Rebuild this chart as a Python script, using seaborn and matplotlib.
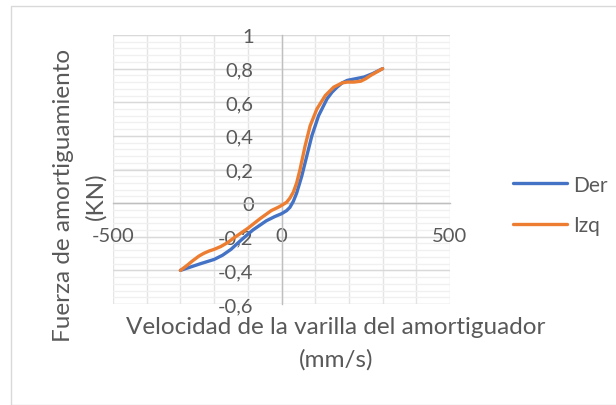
import matplotlib
matplotlib.use("Agg")
import matplotlib.pyplot as plt
import seaborn as sns
import pandas as pd
import numpy as np
from matplotlib.ticker import FuncFormatter
from matplotlib.patches import Rectangle
from matplotlib.lines import Line2D

# Data
der_x = [-300, -270, -240, -200, -175, -150, -120, -85, -45, -20, 0, 15, 25, 35, 45, 60, 75, 90, 110, 135, 150, 165, 180, 195, 215, 245, 270, 300]
der_y = [-0.40, -0.38, -0.36, -0.335, -0.31, -0.275, -0.22, -0.16, -0.105, -0.08, -0.063, -0.045, -0.025, 0.01, 0.06, 0.16, 0.28, 0.40, 0.52, 0.62, 0.66, 0.69, 0.715, 0.73, 0.738, 0.75, 0.77, 0.80]
izq_x = [-300, -280, -265, -245, -230, -215, -200, -180, -160, -140, -100, -64, -30, -10, 0, 15, 25, 35, 45, 55, 70, 85, 105, 130, 155, 180, 195, 215, 235, 250, 265, 300]
izq_y = [-0.40, -0.37, -0.345, -0.315, -0.298, -0.285, -0.275, -0.258, -0.235, -0.205, -0.15, -0.093, -0.044, -0.025, -0.014, 0.005, 0.03, 0.065, 0.12, 0.20, 0.34, 0.46, 0.56, 0.64, 0.69, 0.715, 0.72, 0.72, 0.725, 0.74, 0.76, 0.80]
series_names = ["Der", "Izq"]
x_ticks = [-500, 0, 500]
y_ticks = [-0.6, -0.4, -0.2, 0, 0.2, 0.4, 0.6, 0.8, 1]

df = pd.concat([
    pd.DataFrame({"x": der_x, "y": der_y, "serie": series_names[0]}),
    pd.DataFrame({"x": izq_x, "y": izq_y, "serie": series_names[1]}),
])

sns.set_theme(style="white")
plt.rcParams['font.family'] = ['Lato', 'DejaVu Sans']

W, H = 616, 406
fig = plt.figure(figsize=(W / 100, H / 100), dpi=100)
fig.patches.append(Rectangle((11 / W, 0), 1, 1 - 7 / H, transform=fig.transFigure,
                             fill=False, edgecolor="#D9D9D9", linewidth=1.0))

ax = fig.add_axes([113 / W, 1 - 305 / H, (450 - 113) / W, (305 - 36) / H])
ax.set_xlim(-500, 500)
ax.set_ylim(-0.6, 1.0)

# gridlines
for xv in np.arange(-500, 501, 100):
    ax.axvline(xv, color="#E4E4E4", linewidth=1.0, zorder=0)
for yv in np.arange(-0.6, 1.0001, 0.04):
    ax.axhline(yv, color="#F0F0F0", linewidth=1.0, zorder=0)
for yv in np.arange(-0.6, 1.0001, 0.2):
    ax.axhline(yv, color="#D9D9D9", linewidth=1.0, zorder=0.5)

sns.lineplot(data=df, x="x", y="y", hue="serie", sort=False, ax=ax,
             palette=["#4472C4", "#ED7D31"], linewidth=2.4, legend=False, zorder=3)
for l in ax.get_lines():
    l.set_solid_joinstyle("round")
    l.set_solid_capstyle("round")

for s in ["top", "right"]:
    ax.spines[s].set_visible(False)
ax.spines["left"].set_position(("data", 0))
ax.spines["bottom"].set_position(("data", 0))
for s in ["left", "bottom"]:
    ax.spines[s].set_color("#BFBFBF")
    ax.spines[s].set_linewidth(1.0)


def yfmt(v, p):
    if abs(v) < 1e-9:
        return "0"
    s = f"{v:.1f}".replace(".", ",")
    if s.endswith(",0"):
        s = s[:-2]
    return s


ax.set_xticks(x_ticks)
ax.set_yticks(y_ticks)
ax.xaxis.set_major_formatter(FuncFormatter(lambda v, p: f"{v:g}"))
ax.yaxis.set_major_formatter(FuncFormatter(yfmt))
ax.tick_params(axis="both", colors="#BFBFBF", labelcolor="#595959", labelsize=14.5,
               length=6, width=1.0, direction="out")
ax.tick_params(axis="y", pad=14)
ax.tick_params(axis="x", pad=11)
ax.set_xlabel("")
ax.set_ylabel("")

tcol = "#595959"
fig.text(336 / W, 1 - 328 / H, "Velocidad de la varilla del amortiguador", ha="center", va="center",
         fontsize=17.5, color=tcol)
fig.text(336 / W, 1 - 360 / H, "(mm/s)", ha="center", va="center", fontsize=17.5, color=tcol)
fig.text(63 / W, 1 - 195 / H, "Fuerza de amortiguamiento", ha="center", va="center", rotation=90,
         fontsize=17.5, color=tcol)
fig.text(96 / W, 1 - 196 / H, "(KN)", ha="center", va="center", rotation=90,
         fontsize=17.5, color=tcol)

handles = [Line2D([0], [0], color="#4472C4", linewidth=2.4),
           Line2D([0], [0], color="#ED7D31", linewidth=2.4)]
fig.legend(handles, series_names, loc="center left", bbox_to_anchor=(494 / W, 1 - 206 / H),
           frameon=False, fontsize=15, handlelength=2.6, handletextpad=0.3, labelspacing=1.0,
           labelcolor=tcol)

fig.savefig("out.png", dpi=100)
